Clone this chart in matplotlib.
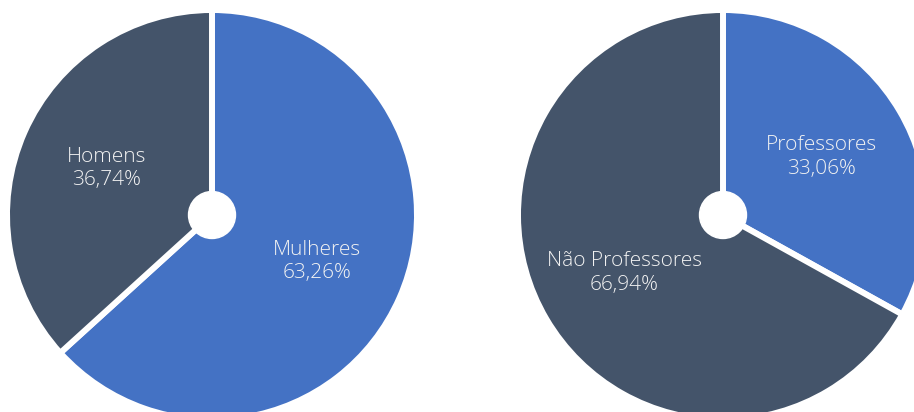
import matplotlib
matplotlib.use("Agg")
import matplotlib.pyplot as plt

# data
sexo_labels = ["Mulheres", "Homens"]
sexo_values = [63.26, 36.74]
prof_labels = ["Professores", "Não Professores"]
prof_values = [33.06, 66.94]

colors = ["#4472C4", "#44546A"]

W, H = 914, 412
fig = plt.figure(figsize=(W / 100, H / 100), dpi=100)
ax = fig.add_axes([0, 0, 1, 1])


def donut(values, labels, center):
    wedges, _, autotexts = ax.pie(
        values, colors=colors, startangle=90, counterclock=False,
        center=center, radius=205, frame=True, autopct="%.2f",
        pctdistance=0.56,
        wedgeprops=dict(edgecolor="white", linewidth=4.3),
        textprops=dict(color="#F2F2F2", fontsize=15, family="Open Sans",
                       weight="light", linespacing=1.25))
    for t, lab, v in zip(autotexts, labels, values):
        t.set_text(lab + "\n" + ("%.2f%%" % v).replace(".", ","))
    ax.add_patch(plt.Circle(center, 23.5, color="white", zorder=5))


donut(sexo_values, sexo_labels, (212, H - 215))
donut(prof_values, prof_labels, (723, H - 215))

ax.set_xlim(0, W)
ax.set_ylim(0, H)
ax.set_aspect("equal")
ax.axis("off")

fig.savefig("out.png", dpi=100, facecolor="white")
